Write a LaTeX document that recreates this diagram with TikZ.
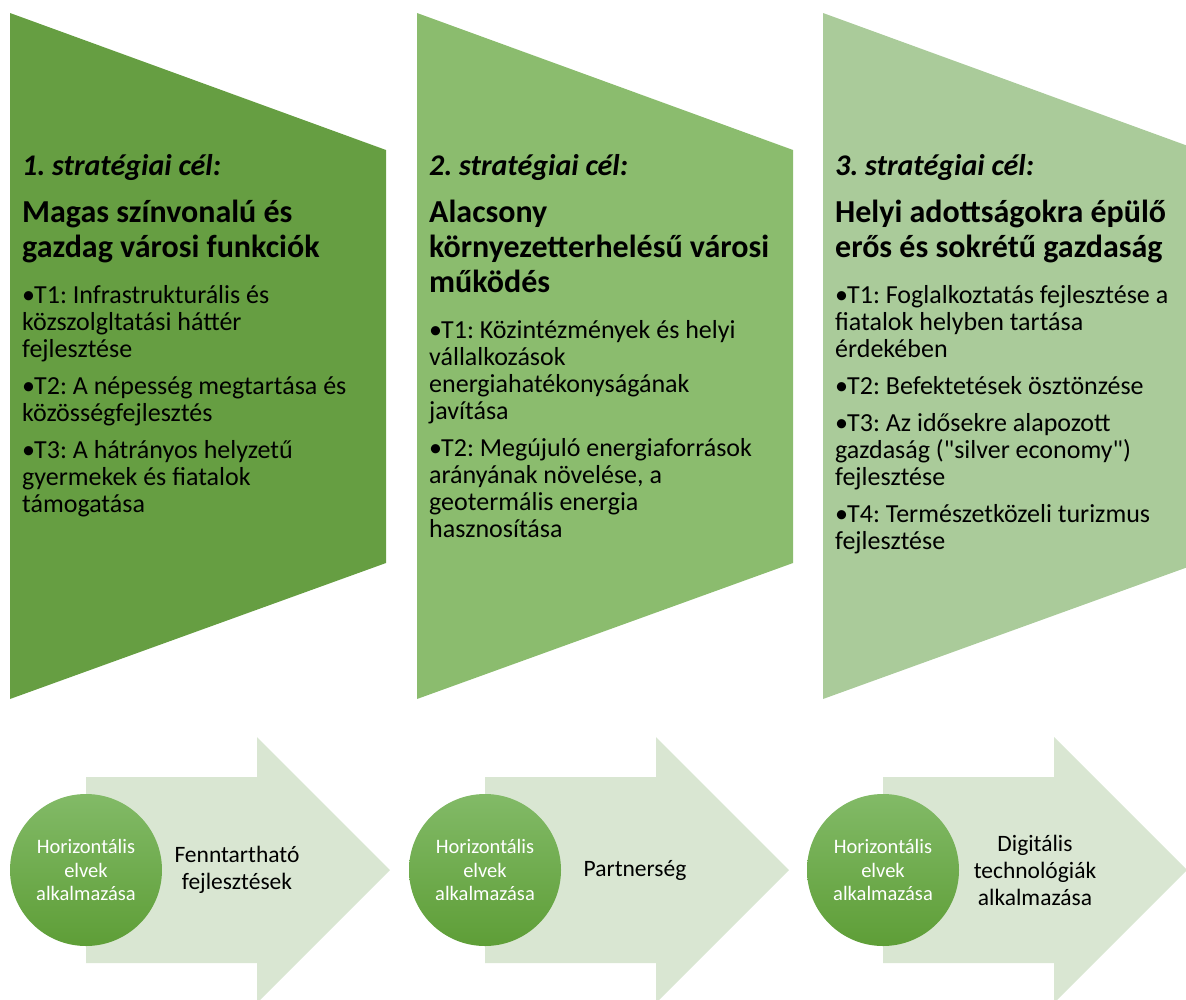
\documentclass[tikz,border=0pt]{standalone}
\usepackage{fontspec}
\setmainfont{Carlito}[Ligatures=TeXOff]
\definecolor{gA}{HTML}{669E42}
\definecolor{gB}{HTML}{8BBC6E}
\definecolor{gC}{HTML}{AACB9A}
\definecolor{arrfill}{HTML}{D9E6D2}
\definecolor{circtop}{HTML}{82BA67}
\definecolor{circbot}{HTML}{5E9E37}
\newcommand\hdline[1]{{\fontsize{30}{30}\selectfont\bfseries\itshape #1\par}}
\newcommand\ttlines[1]{{\fontsize{32}{35}\selectfont\bfseries\vspace{12pt}#1\par}}
\newcommand\bitem[1]{\hangindent=12pt\hangafter=1\noindent\makebox[12pt][l]{•}#1\par\vspace{10pt}}
\newenvironment{blist}{\par\fontsize{26}{27}\selectfont\vspace{19pt}}{\par}
\newcommand\coltext[1]{\parbox[t]{370pt}{\frenchspacing\raggedright\lineskiplimit=-1000pt\lineskip=0pt #1}}
\tikzset{
  colshape/.style={draw=none},
  arrowshape/.style={fill=arrfill, draw=none},
  coltextnode/.style={anchor=base west, inner sep=0pt, text=black},
  circ/.style={circle, minimum size=152pt, inner sep=0pt, top color=circtop, bottom color=circbot,
    text=white, align=center, font=\fontsize{20.5}{23.5}\selectfont},
  arrtext/.style={align=center, inner sep=0pt, text=black, font=\fontsize{23.5}{27}\selectfont}
}
\begin{document}
\begin{tikzpicture}[x=1pt, y=-1pt]
\useasboundingbox (0,0) rectangle (1186,999);
\clip (0,0) rectangle (1186,999);
% strategy pentagons
\fill[colshape, gA] (10,13) -- (386,150) -- (386,563) -- (10,699) -- cycle;
\fill[colshape, gB] (417,13) -- (793,150) -- (793,563) -- (417,699) -- cycle;
\fill[colshape, gC] (823,13) -- (1199,150) -- (1199,563) -- (823,699) -- cycle;
% column texts
\node[coltextnode] (t1) at (22,175) {\coltext{%
\hdline{1. stratégiai cél:}
\ttlines{Magas színvonalú és\\gazdag városi funkciók}
\begin{blist}
\bitem{T1: Infrastrukturális és\\közszolgltatási háttér\\fejlesztése}
\bitem{T2: A népesség megtartása és\\közösségfejlesztés}
\bitem{T3: A hátrányos helyzetű\\gyermekek és fiatalok\\támogatása}
\end{blist}}};
\node[coltextnode] (t2) at (429,175) {\coltext{%
\hdline{2. stratégiai cél:}
\ttlines{Alacsony\\környezetterhelésű városi\\működés}
\begin{blist}
\bitem{T1: Közintézmények és helyi\\vállalkozások\\energiahatékonyságának\\javítása}
\bitem{T2: Megújuló energiaforrások\\arányának növelése, a\\geotermális energia\\hasznosítása}
\end{blist}}};
\node[coltextnode] (t3) at (835,175) {\coltext{%
\hdline{3. stratégiai cél:}
\ttlines{Helyi adottságokra épülő\\erős és sokrétű gazdaság}
\begin{blist}
\bitem{T1: Foglalkoztatás fejlesztése a\\fiatalok helyben tartása\\érdekében}
\bitem{T2: Befektetések ösztönzése}
\bitem{T3: Az idősekre alapozott\\gazdaság ("silver economy")\\fejlesztése}
\bitem{T4: Természetközeli turizmus\\fejlesztése}
\end{blist}}};
% bottom arrows
\fill[arrowshape] (86,777) -- (257,777) -- (257,737) -- (390,870) -- (257,1003) -- (257,963) -- (86,963) -- cycle;
\fill[arrowshape] (485,777) -- (656,777) -- (656,737) -- (789,870) -- (656,1003) -- (656,963) -- (485,963) -- cycle;
\fill[arrowshape] (883,777) -- (1054,777) -- (1054,737) -- (1187,870) -- (1054,1003) -- (1054,963) -- (883,963) -- cycle;
% circles
\node[circ] (c1) at (86,870) {Horizontális\\elvek\\alkalmazása};
\node[circ] (c2) at (485,870) {Horizontális\\elvek\\alkalmazása};
\node[circ] (c3) at (883,870) {Horizontális\\elvek\\alkalmazása};
% arrow labels
\node[arrtext] (a1) at (237,870) {Fenntartható\\fejlesztések};
\node[arrtext] (a2) at (635,870) {Partnerség};
\node[arrtext] (a3) at (1035,870) {Digitális\\technológiák\\alkalmazása};
\end{tikzpicture}
\end{document}
